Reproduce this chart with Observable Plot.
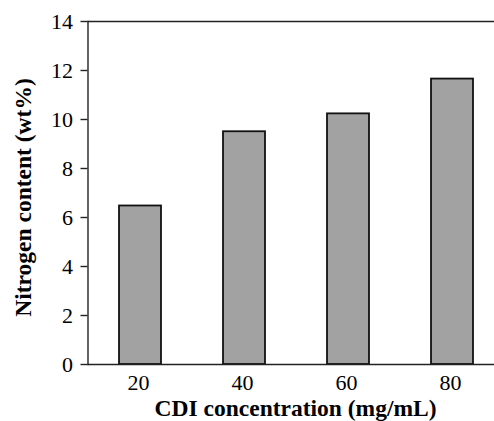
<!DOCTYPE html>
<html>
<head>
<meta charset="utf-8">
<script src="https://cdn.jsdelivr.net/npm/d3@7"></script>
<script src="https://cdn.jsdelivr.net/npm/@observablehq/plot@0.6"></script>
<style>
  html, body { margin: 0; padding: 0; background: white; }
  #chart svg, #chart svg text { font-family: "Liberation Serif", "Times New Roman", serif !important; }
</style>
</head>
<body>
<div id="chart"></div>
<script>
const concentrations = ["20", "40", "60", "80"];
const nitrogen = [6.47, 9.5, 10.23, 11.65];
const yTicks = [0, 2, 4, 6, 8, 10, 12, 14];
const xTitle = "CDI concentration (mg/mL)";
const yTitle = "Nitrogen content (wt%)";

const data = concentrations.map((c, i) => ({c, v: nitrogen[i]}));
const font = "'Liberation Serif', 'Times New Roman', serif";

const chart = Plot.plot({
  width: 494,
  height: 421,
  marginTop: 21,
  marginBottom: 57,
  marginLeft: 87.5,
  marginRight: 0,
  style: {fontFamily: font, fontSize: "22px", color: "black", background: "white"},
  x: {domain: concentrations, range: [87.5, 505], paddingInner: 0.595, paddingOuter: 0.296, label: null},
  y: {domain: [0, 14], label: null},
  marks: [
    Plot.barY(data, {x: "c", y: "v", fill: "#a2a2a2", stroke: "#111", strokeWidth: 1.8}),
    Plot.ruleY([0], {stroke: "#222", strokeWidth: 1.4}),
    Plot.ruleY([14], {stroke: "#222", strokeWidth: 1.4}),
    Plot.frame({anchor: "left", stroke: "#222", strokeWidth: 1.4}),
    Plot.axisY({ticks: yTicks, tickSize: 7, tickPadding: 8, tickFormat: d => String(d), fontSize: 22, stroke: "#222", strokeWidth: 1.4, strokeOpacity: 1, label: null}),
    Plot.axisX({tickSize: 0, tickPadding: 10, dx: -2, fontSize: 22, label: null}),
    Plot.text([xTitle], {frameAnchor: "bottom", text: d => d, dx: 4.3, dy: 43.6, textAnchor: "middle", lineAnchor: "middle", fontWeight: "bold", fontSize: 23.5, fill: "black"}),
    Plot.text([yTitle], {frameAnchor: "left", text: d => d, rotate: -90, dx: -65, dy: 4.5, textAnchor: "middle", lineAnchor: "middle", fontWeight: "bold", fontSize: 23.5, fill: "black"})
  ]
});
document.getElementById("chart").appendChild(chart);
</script>
</body>
</html>
